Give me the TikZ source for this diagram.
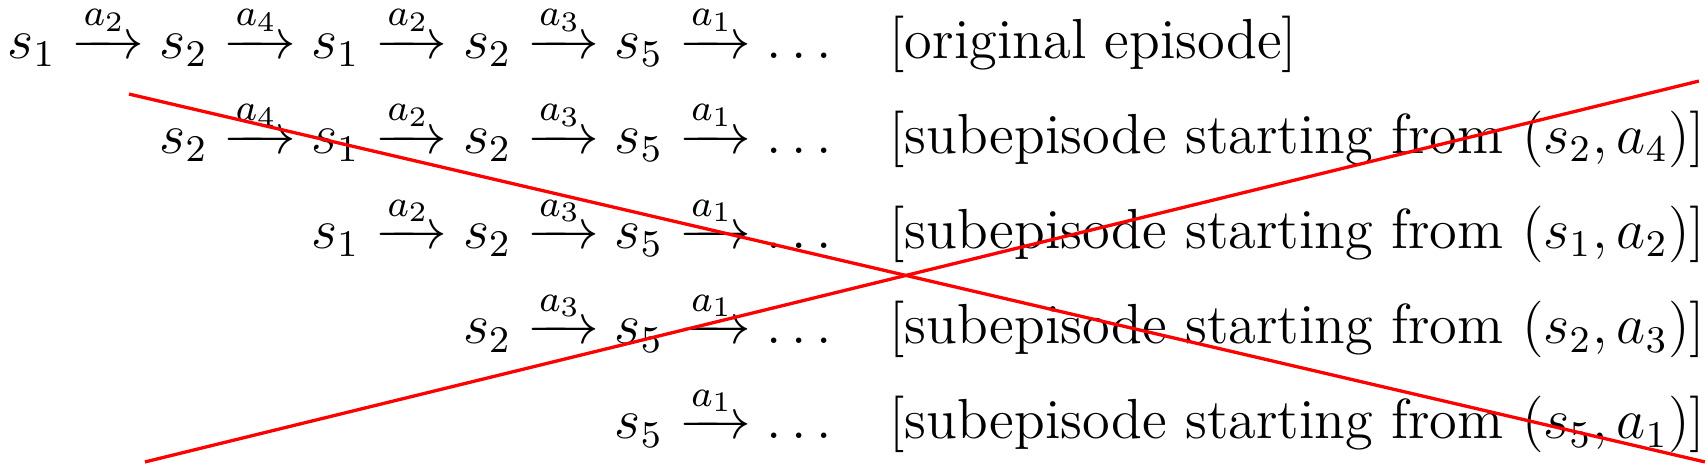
\documentclass[12pt,tikz,border=0pt]{standalone}
\usepackage{amsmath}
\tikzstyle{episode} = [inner sep=0pt, anchor=base east]
\tikzstyle{legende} = [inner sep=0pt, anchor=base west]
\tikzstyle{rature} = [draw=red, line width=0.7pt]

\begin{document}
\begin{tikzpicture}

        \useasboundingbox (0,0) rectangle (12.749,-3.508);

        \node (E0) [episode] at (6.215,-0.433) {$s_1 \xrightarrow{a_2} s_2 \xrightarrow{a_4} s_1 \xrightarrow{a_2} s_2 \xrightarrow{a_3} s_5 \xrightarrow{a_1} \ldots$};
        \node (L0) [legende] at (6.633,-0.433) {[original episode]};

        \node (E1) [episode] at (6.215,-1.143) {$s_2 \xrightarrow{a_4} s_1 \xrightarrow{a_2} s_2 \xrightarrow{a_3} s_5 \xrightarrow{a_1} \ldots$};
        \node (L1) [legende] at (6.633,-1.143) {[subepisode starting from $(s_2, a_4)$]};

        \node (E2) [episode] at (6.215,-1.854) {$s_1 \xrightarrow{a_2} s_2 \xrightarrow{a_3} s_5 \xrightarrow{a_1} \ldots$};
        \node (L2) [legende] at (6.633,-1.854) {[subepisode starting from $(s_1, a_2)$]};

        \node (E3) [episode] at (6.215,-2.565) {$s_2 \xrightarrow{a_3} s_5 \xrightarrow{a_1} \ldots$};
        \node (L3) [legende] at (6.633,-2.565) {[subepisode starting from $(s_2, a_3)$]};

        \node (E4) [episode] at (6.215,-3.275) {$s_5 \xrightarrow{a_1} \ldots$};
        \node (L4) [legende] at (6.633,-3.275) {[subepisode starting from $(s_5, a_1)$]};

        % la croix
        \coordinate (X1) at (0.963,-0.702);
        \coordinate (X2) at (12.726,-3.448);
        \coordinate (X3) at (1.082,-3.448);
        \coordinate (X4) at (12.681,-0.605);
        \draw [rature] (X1) -- (X2);
        \draw [rature] (X3) -- (X4);

    \end{tikzpicture}
\end{document}
